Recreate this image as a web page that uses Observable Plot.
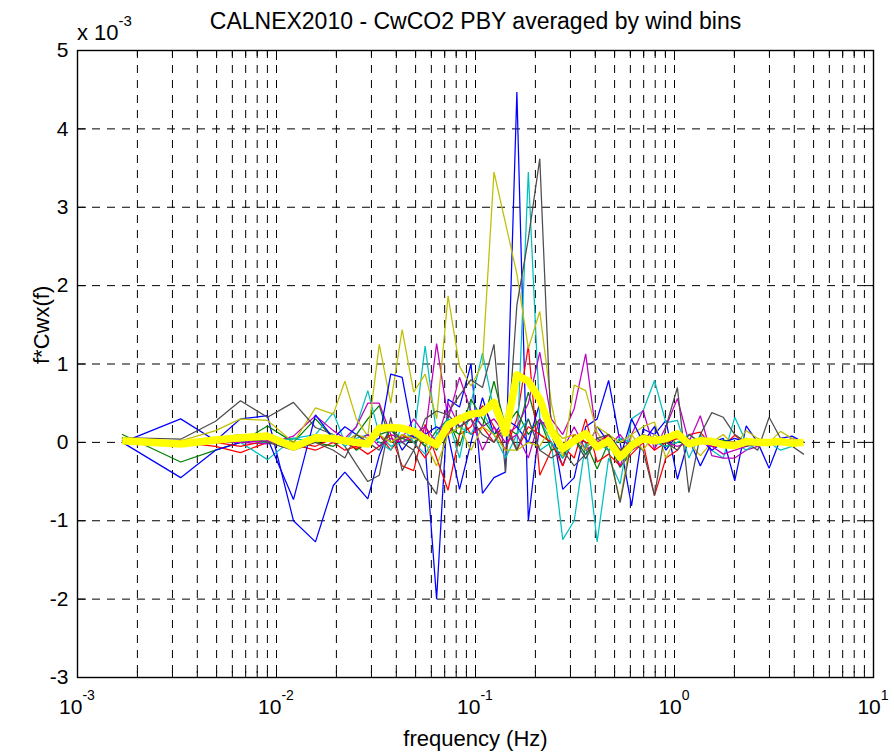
<!DOCTYPE html>
<html><head><meta charset="utf-8">
<script src="https://cdn.jsdelivr.net/npm/d3@7"></script>
<script src="https://cdn.jsdelivr.net/npm/@observablehq/plot@0.6"></script>
<style>
body{margin:0;background:#fff}
svg{font-family:"Liberation Sans",Arial,Helvetica,sans-serif}
</style>
</head><body><div id="chart"></div>
<script>
// frequency bins (Hz)
const freq = [0.00168,0.00330,0.00494,0.00659,0.00901,0.01217,0.0157,0.0193,
 0.02206,0.02518,0.02876,0.03284,0.03750,0.04281,0.04889,0.05584,0.06376,0.07280,
 0.08313,0.09493,0.1084,0.1238,0.1414,0.1614,0.1843,0.2104,0.2403,0.2744,0.3133,
 0.3578,0.4086,0.4666,0.5328,0.6083,0.6946,0.7932,0.9057,1.0342,1.1809,1.3485,
 1.5398,1.7583,2.0078,2.2926,2.6179,2.9895,3.4137,3.8980,4.4510];

// f*Cwx(f) per wind bin, units of 1e-3
const b1 = [0.0,0.30,0.02,0.30,0.34,-1.0,-1.27,-0.55,-0.38,-0.55,-0.72,-0.17,0.2,-0.1,0.10,-0.05,-2.0,0.55,0.45,1.0,-0.65,-0.45,-0.38,4.47,-1.0,0.25,0.25,-0.6,-0.45,0.2,0.3,0.79,0.0,-0.81,0.17,0.1,0.28,-0.47,0.05,-0.3,0.0,0.05,-0.49,0.21,0.0,-0.33,0.05,0.08,0.0];
const g1 = [0.1,-0.25,-0.1,0.0,0.21,0.0,0.3,0.05,0.0,0.1,0.3,0.47,0.0,0.05,0.1,-0.05,0.15,0.3,-0.05,0.4,0.2,0.78,0.2,0.1,0.64,0.1,0.0,-0.2,0.1,0.0,-0.34,0.0,-0.32,-0.1,0.0,0.05,0.0,0.05,0.02,0.0,0.0,0.03,0.0,0.0,0.02,0.0,0.0,0.0,0.0];
const r1 = [0.0,0.0,-0.05,-0.13,0.0,-0.03,-0.1,0.0,-0.1,-0.05,-0.15,-0.05,0.1,-0.3,-0.36,0.23,-0.2,-0.61,0.1,0.2,0.47,0.2,-0.1,0.3,1.23,-0.42,-0.1,-0.05,-0.2,0.3,-0.25,-0.15,-0.3,-0.15,0.0,-0.68,-0.2,-0.1,0.1,0.13,-0.05,-0.05,0.09,-0.02,0.0,0.0,0.0,0.0,0.0];
const c1 = [0.05,0.0,0.05,0.0,-0.22,0.05,0.1,0.38,0.0,0.2,0.66,0.1,-0.05,0.0,0.05,1.23,0.1,0.3,-0.2,0.5,1.14,0.4,0.2,-0.1,3.45,0.3,0.0,-1.24,-1.0,0.0,-1.27,-0.2,-0.53,0.3,0.4,0.79,0.25,0.28,-0.2,0.1,-0.1,-0.2,0.32,0.0,-0.05,0.0,-0.1,-0.05,0.0];
const m1 = [0.03,0.0,0.02,0.0,-0.02,0.08,0.34,0.15,0.05,0.2,0.5,0.5,0.1,0.05,0.3,0.1,1.26,0.3,0.83,0.4,0.2,0.3,0.1,0.2,0.5,1.15,0.3,0.1,0.43,1.13,0.0,0.1,-0.3,0.1,0.41,-0.09,0.2,0.56,0.0,0.34,-0.17,-0.2,-0.2,-0.1,-0.05,0.0,0.0,0.05,0.0];
const y1 = [0.0,0.02,0.15,0.3,0.28,0.0,0.44,0.36,0.78,0.3,0.08,1.25,0.5,1.44,0.64,0.87,0.3,1.87,0.97,0.72,1.0,3.45,2.8,2.15,1.2,1.67,0.5,-0.2,0.73,0.66,0.13,-0.1,-0.75,0.1,0.2,0.26,-0.2,0.1,0.0,-0.17,0.0,0.1,-0.05,0.15,0.05,0.0,0.14,0.05,0.0];
const k1 = [0.06,0.04,0.27,0.53,0.32,0.51,0.19,0.1,-0.05,-0.28,-0.5,-0.42,0.32,-0.36,-0.1,-0.45,-0.66,0.38,0.6,0.8,0.7,1.25,-0.38,1.75,2.6,3.62,0.1,-0.1,0.05,-0.21,0.06,-0.1,-0.77,0.0,-0.1,-0.68,0.2,0.7,-0.64,0.1,0.38,0.32,0.1,0.0,-0.1,0.32,0.05,-0.05,-0.15];
const b2 = [0.0,-0.45,-0.1,0.0,0.05,-0.73,0.35,0.05,0.2,0.1,0.0,0.05,0.87,0.83,0.05,0.1,0.2,0.1,-0.6,0.0,0.57,0.1,0.3,0.2,0.0,0.5,0.1,-0.3,0.1,-0.1,0.2,0.0,-0.2,0.3,0.0,0.2,-0.1,0.1,0.0,0.05,-0.1,0.0,0.05,0.0,0.02,0.0,0.0,0.0,0.0];
const g2 = [0.0,-0.05,0.0,0.05,0.0,0.05,0.0,-0.05,0.05,-0.1,0.0,0.1,0.15,0.05,0.0,0.1,-0.1,0.2,0.1,0.55,0.3,0.1,0.2,0.4,0.1,0.3,-0.1,-0.05,0.05,-0.15,0.0,-0.1,0.05,-0.05,0.0,0.03,-0.05,0.0,0.02,0.0,0.0,-0.02,0.0,0.0,0.0,0.0,0.0,0.0,0.0];
const r2 = [0.0,0.02,0.0,-0.05,0.02,0.0,-0.05,0.05,0.0,-0.08,0.0,0.1,-0.1,0.1,0.0,-0.2,0.05,0.1,0.35,0.1,0.2,0.0,0.3,-0.1,0.2,0.1,0.0,-0.3,0.1,0.0,-0.05,0.1,-0.1,0.0,0.05,-0.1,0.0,0.05,0.0,0.0,0.0,0.0,0.0,0.0,0.0,0.0,0.0,0.0,0.0];
const c2 = [0.0,0.0,0.0,0.02,0.0,0.05,0.0,0.1,-0.05,0.05,0.1,0.0,-0.1,0.2,0.0,-0.15,0.1,0.3,0.2,0.1,0.4,0.1,-0.2,0.1,0.3,-0.1,0.0,-0.2,0.0,0.1,0.0,-0.1,0.05,0.0,0.1,0.0,-0.05,0.0,0.1,0.0,0.0,-0.05,0.0,-0.1,0.0,0.0,0.0,0.0,0.0];
const m2 = [0.0,0.0,0.02,0.0,0.02,-0.05,0.05,0.0,0.02,0.0,0.1,-0.05,0.05,0.0,0.1,0.2,0.0,0.5,0.2,0.3,-0.1,0.2,0.0,0.1,-0.2,0.3,0.1,-0.1,0.2,-0.1,0.0,-0.05,0.1,-0.1,0.0,0.05,0.0,-0.05,0.0,0.0,-0.05,-0.15,-0.1,-0.05,-0.02,0.0,0.0,0.0,0.0];
const y2 = [0.0,0.0,0.0,0.02,0.05,0.0,0.0,0.05,0.0,0.1,0.05,0.1,0.0,0.1,0.05,0.0,-0.3,0.1,0.2,-0.1,0.2,0.1,-0.1,-0.1,0.0,-0.05,0.2,0.05,0.1,-0.1,0.2,0.1,0.0,0.1,-0.1,0.1,0.0,0.1,0.0,0.0,0.05,0.0,0.0,0.05,0.0,0.0,0.0,0.0,0.0];
const k2 = [0.02,0.0,0.05,0.1,0.0,-0.1,0.0,-0.1,-0.2,0.1,0.0,-0.1,0.2,0.0,-0.1,0.3,0.4,0.35,0.2,0.3,0.1,0.0,0.2,-0.1,0.3,-0.1,-0.2,-0.1,-0.3,-0.15,0.05,0.1,-0.1,0.0,0.1,0.05,0.0,-0.1,0.1,0.0,0.0,0.0,0.0,-0.05,0.0,0.0,0.0,0.0,0.0];
// average over all wind bins
const meanCurve = [0.02,-0.02,0.03,0.06,0.08,-0.06,0.06,0.05,0.02,0.0,-0.02,0.18,0.19,0.18,0.14,0.05,-0.03,0.22,0.30,0.36,0.38,0.51,0.12,0.86,0.78,0.55,0.15,-0.08,0.02,0.11,-0.06,0.02,-0.19,-0.04,0.05,0.02,0.05,0.11,-0.02,0.02,0.01,-0.03,-0.04,0.01,0.0,0.0,0.01,-0.01,0.0];

const seriesList = [b1,g1,r1,c1,m1,y1,k1,b2,g2,r2,c2,m2,y2,k2];
const seriesColors = ["#0000ff","#008000","#ff0000","#00bfbf","#bf00bf","#bfbf00","#4d4d4d",
                      "#0000ff","#008000","#ff0000","#00bfbf","#bf00bf","#bfbf00","#4d4d4d"];

const yTicks = [-3,-2,-1,0,1,2,3,4,5];
const yTickLabels = ["-3","-2","-1","0","1","2","3","4","5"];
const xMajor = [0.001,0.01,0.1,1,10];
const xExponents = ["-3","-2","-1","0","1"];
const xMinor = [0.002,0.003,0.004,0.005,0.006,0.007,0.008,0.009,
                0.02,0.03,0.04,0.05,0.06,0.07,0.08,0.09,
                0.2,0.3,0.4,0.5,0.6,0.7,0.8,0.9,
                2,3,4,5,6,7,8,9];

const titleText = "CALNEX2010 - CwCO2 PBY averaged by wind bins";
const xLabel = "frequency (Hz)";
const yLabel = "f*Cwx(f)";

const thin = [];
seriesList.forEach((s, j) => s.forEach((v, i) => thin.push({f: freq[i], v, s: j, c: seriesColors[j]})));
const meanData = freq.map((f, i) => ({f, v: meanCurve[i]}));

const W = 894, H = 753, mL = 77, mR = 21, mT = 50, mB = 76;
const frameH = H - mT - mB, frameW = W - mL - mR;
const dash = "8,7";

const chart = Plot.plot({
  width: W, height: H,
  marginLeft: mL, marginRight: mR, marginTop: mT, marginBottom: mB,
  style: {background: "#fff", fontFamily: "'Liberation Sans',Arial,sans-serif", fontSize: "21px", overflow: "visible"},
  x: {type: "log", domain: [0.001, 10], axis: null},
  y: {domain: [-3, 5], axis: null},
  color: {type: "identity"},
  marks: [
    Plot.ruleX(xMajor.slice(1, -1).concat(xMinor), {x: d => d, stroke: "#000", strokeWidth: 1, strokeDasharray: dash}),
    Plot.ruleY(yTicks.slice(1, -1), {y: d => d, stroke: "#000", strokeWidth: 1, strokeDasharray: dash}),
    // tick marks pointing inward
    Plot.tickX(xMajor, {x: d => d, stroke: "#000", insetTop: frameH - 10}),
    Plot.tickX(xMajor, {x: d => d, stroke: "#000", insetBottom: frameH - 10}),
    Plot.tickX(xMinor, {x: d => d, stroke: "#000", insetTop: frameH - 6}),
    Plot.tickX(xMinor, {x: d => d, stroke: "#000", insetBottom: frameH - 6}),
    Plot.tickY(yTicks, {y: d => d, stroke: "#000", insetRight: frameW - 9}),
    Plot.tickY(yTicks, {y: d => d, stroke: "#000", insetLeft: frameW - 9}),
    Plot.line(thin, {x: "f", y: "v", z: "s", stroke: "c", strokeWidth: 1.25, strokeLinejoin: "miter"}),
    Plot.line(meanData, {x: "f", y: "v", stroke: "#ffff00", strokeWidth: 7.5, strokeLinejoin: "round", strokeLinecap: "butt"}),
    Plot.frame({stroke: "#000", strokeWidth: 1.4}),
    Plot.text(yTicks, {y: d => d, frameAnchor: "left", dx: -9, textAnchor: "end", fontSize: 21, text: (d, i) => yTickLabels[i]}),
    Plot.text([titleText], {frameAnchor: "top", dy: -22, fontSize: 23, lineAnchor: "bottom", text: d => d}),
    Plot.text([xLabel], {frameAnchor: "bottom", dy: 68, fontSize: 22, lineAnchor: "bottom", text: d => d}),
    Plot.text([yLabel], {frameAnchor: "left", dx: -36, rotate: -90, fontSize: 22, text: d => d})
  ]
});
document.getElementById("chart").appendChild(chart);

// x tick labels as 10 with superscript exponents, plus the y multiplier
const sx = chart.scale("x");
const svg = d3.select(chart);
const lab = svg.append("g").attr("font-size", 21).attr("fill", "#000");
xMajor.forEach((v, i) => {
  const t = lab.append("text").attr("x", sx.apply(v)).attr("y", mT + frameH + 37).attr("text-anchor", "middle");
  t.append("tspan").text("10");
  t.append("tspan").attr("dy", -14).attr("font-size", 14).text(xExponents[i]);
});
const mult = lab.append("text").attr("x", mL).attr("y", 40).attr("text-anchor", "start").attr("font-size", 22);
mult.append("tspan").text("x 10");
mult.append("tspan").attr("dy", -14).attr("font-size", 15).text("-3");
</script>
</body></html>
